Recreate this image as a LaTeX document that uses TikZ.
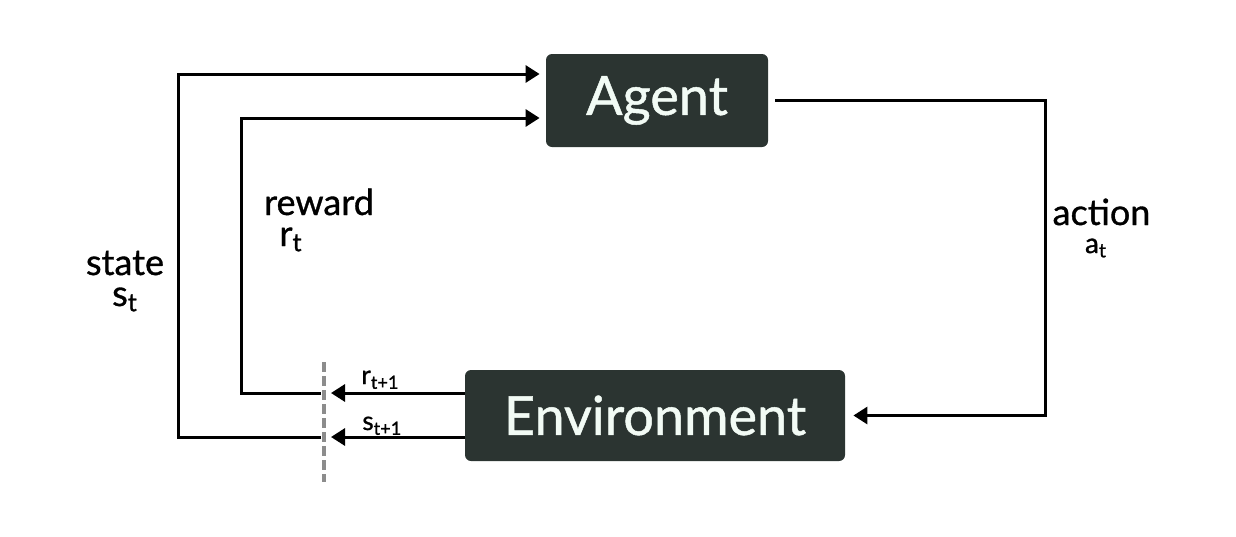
\documentclass[tikz,border=0pt]{standalone}
\usepackage{fontspec}
\setmainfont{Lato}[FakeBold=0.9]
\usetikzlibrary{arrows.meta,positioning,calc}
\definecolor{boxdark}{HTML}{2B3431}
\definecolor{boxtext}{HTML}{F2FBF5}
\definecolor{cutgray}{HTML}{8C8C8C}
\newcommand{\lowidx}[1]{\textsubscript{#1}}

\begin{document}
\begin{tikzpicture}[x=0.5pt,y=-0.5pt,
    every node/.style={font=\fontsize{18}{21}\selectfont},
    block/.style   ={rectangle,rounded corners=3pt,fill=boxdark,text=boxtext,
                     inner sep=0pt,font=\fontsize{27}{32}\selectfont},
    lbl/.style     ={anchor=base,inner sep=0pt},
    smalllbl/.style={anchor=base west,inner sep=0pt,font=\fontsize{13}{15}\selectfont},
    flow/.style    ={-{Triangle[length=7pt,width=8.5pt]},line width=1.5pt},
    link/.style    ={-,line width=1.5pt},
    cutline/.style ={cutgray,line width=2.2pt,dash pattern=on 5pt off 2pt},
  ]
  \useasboundingbox (0,0) rectangle (1236,536);

  % --- the two blocks ---
  \node[block,minimum width=111pt,minimum height=46.5pt] (agent) at (657,100.5) {Agent};
  \node[block,minimum width=190pt,minimum height=45.5pt] (env)   at (655,415.5) {Environment};

  % --- corners and the cut ---
  \coordinate (rgap)   at (321,393);
  \coordinate (rtip)   at (331,393);
  \coordinate (sgap)   at (321,437);
  \coordinate (stip)   at (331,437);
  \coordinate (rcorner) at (241,118);
  \coordinate (scorner) at (178,74);
  \coordinate (aside)  at (1045,258);
  \coordinate (cuttop) at (324,362);
  \coordinate (cutbot) at (324,482);

  % action
  \draw[flow,shorten <=3.5pt,shorten >=4pt] (agent.east) -| (aside) |- (env.east);

  % next reward / next state into the cut
  \draw[flow] (env.west |- rtip) -- (rtip);
  \draw[flow] (env.west |- stip) -- (stip);

  % reward and state back to the agent
  \draw[flow,shorten >=3pt] (rgap) -| (rcorner) -- (agent.west |- rcorner);
  \draw[flow,shorten >=3pt] (sgap) -| (scorner) -- (agent.west |- scorner);

  \draw[cutline] (cuttop) -- (cutbot);

  % --- labels ---
  \node[lbl] (state)  at (125,275)  {state};
  \node[lbl] (st)     at (125,306)  {s\lowidx{t}};
  \node[lbl] (reward) at (319,215) {reward};
  \node[lbl] (rt)     at (291,246)  {r\lowidx{t}};
  \node[lbl] (action) at (1101.5,225) {action};
  \node[lbl,font=\fontsize{14}{16}\selectfont] (at) at (1096,253) {a\lowidx{t}};
  \node[smalllbl] (rnext) at (361,384) {r\lowidx{t+1}};
  \node[smalllbl] (snext) at (362,430) {s\lowidx{t+1}};
\end{tikzpicture}
\end{document}
